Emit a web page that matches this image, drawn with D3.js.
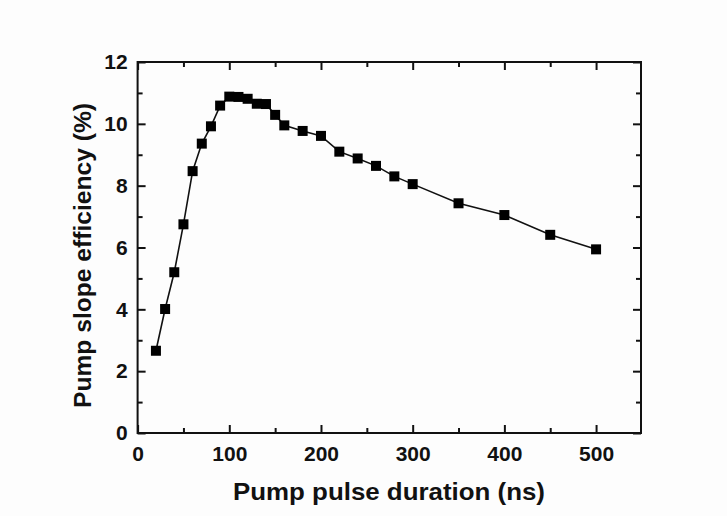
<!DOCTYPE html>
<html><head><meta charset="utf-8">
<script src="https://cdn.jsdelivr.net/npm/d3@7"></script>
<style>
html,body{margin:0;padding:0;background:#fdfdfd;}
svg{display:block;}
text{font-family:"Liberation Sans",Arial,sans-serif;font-weight:bold;fill:#111;}
</style></head>
<body>
<svg id="chart" width="727" height="516"></svg>
<script>
const pulseDuration = [20,30,40,50,60,70,80,90,100,110,120,130,140,150,160,180,200,220,240,260,280,300,350,400,450,500];
const slopeEfficiency = [2.66,4.01,5.20,6.75,8.47,9.36,9.92,10.59,10.88,10.87,10.81,10.65,10.64,10.29,9.95,9.77,9.61,9.10,8.88,8.64,8.30,8.05,7.43,7.05,6.41,5.94];
const xMajorTicks = [0,100,200,300,400,500];
const xMinorTicks = [50,150,250,350,450];
const yMajorTicks = [0,2,4,6,8,10,12];
const yMinorTicks = [1,3,5,7,9,11];
const xTitle = "Pump pulse duration (ns)";
const yTitle = "Pump slope efficiency (%)";

const svg = d3.select("#chart");
const L = 137.6, R = 641, T = 62, B = 433;
const x = d3.scaleLinear().domain([0, 549]).range([L, R]);
const y = d3.scaleLinear().domain([0, 12]).range([B, T]);

const axisColor = "#111";
const majorLen = 8, minorLen = 5;

// bottom axis
const gB = svg.append("g").attr("transform", `translate(0,${B})`)
  .call(d3.axisBottom(x).tickValues(xMajorTicks).tickSizeInner(-majorLen).tickSizeOuter(0).tickPadding(13));
gB.selectAll("text").attr("font-size", 21).attr("dy", "0.71em");
svg.append("g").attr("transform", `translate(0,${B})`)
  .call(d3.axisBottom(x).tickValues(xMinorTicks).tickSizeInner(-minorLen).tickSizeOuter(0).tickFormat(""));
// top axis
svg.append("g").attr("transform", `translate(0,${T})`)
  .call(d3.axisTop(x).tickValues(xMajorTicks).tickSizeInner(-majorLen).tickSizeOuter(0).tickFormat(""));
svg.append("g").attr("transform", `translate(0,${T})`)
  .call(d3.axisTop(x).tickValues(xMinorTicks).tickSizeInner(-minorLen).tickSizeOuter(0).tickFormat(""));
// left axis
const gL = svg.append("g").attr("transform", `translate(${L},0)`)
  .call(d3.axisLeft(y).tickValues(yMajorTicks).tickSizeInner(-majorLen).tickSizeOuter(0).tickPadding(10));
gL.selectAll("text").attr("font-size", 21);
svg.append("g").attr("transform", `translate(${L},0)`)
  .call(d3.axisLeft(y).tickValues(yMinorTicks).tickSizeInner(-minorLen).tickSizeOuter(0).tickFormat(""));
// right axis
svg.append("g").attr("transform", `translate(${R},0)`)
  .call(d3.axisRight(y).tickValues(yMajorTicks).tickSizeInner(-majorLen).tickSizeOuter(0).tickFormat(""));
svg.append("g").attr("transform", `translate(${R},0)`)
  .call(d3.axisRight(y).tickValues(yMinorTicks).tickSizeInner(-minorLen).tickSizeOuter(0).tickFormat(""));

svg.selectAll(".domain").remove();
svg.selectAll(".tick line").attr("stroke", axisColor).attr("stroke-width", 2);
svg.selectAll(".tick text").attr("fill", "#111").attr("font-family", '"Liberation Sans",Arial,sans-serif').attr("font-weight", "bold");

// frame
svg.append("rect").attr("x", L).attr("y", T).attr("width", R - L).attr("height", B - T)
  .attr("fill", "none").attr("stroke", axisColor).attr("stroke-width", 2);

// line
const pts = pulseDuration.map((d, i) => [d, slopeEfficiency[i]]);
svg.append("path").datum(pts)
  .attr("fill", "none").attr("stroke", "#111").attr("stroke-width", 1.6)
  .attr("d", d3.line().x(d => x(d[0])).y(d => y(d[1])));

// markers
const ms = 10;
svg.append("g").selectAll("rect").data(pts).join("rect")
  .attr("x", d => x(d[0]) - ms / 2).attr("y", d => y(d[1]) - ms / 2)
  .attr("width", ms).attr("height", ms).attr("fill", "#000");

// titles
svg.append("text").attr("x", (233 + 545) / 2).attr("y", 500)
  .attr("text-anchor", "middle").attr("font-size", 24)
  .attr("textLength", 312).attr("lengthAdjust", "spacingAndGlyphs")
  .text(xTitle);
svg.append("text").attr("transform", `translate(91,${(103 + 408) / 2}) rotate(-90)`)
  .attr("text-anchor", "middle").attr("font-size", 24)
  .attr("textLength", 305).attr("lengthAdjust", "spacingAndGlyphs")
  .text(yTitle);
</script>
</body></html>
